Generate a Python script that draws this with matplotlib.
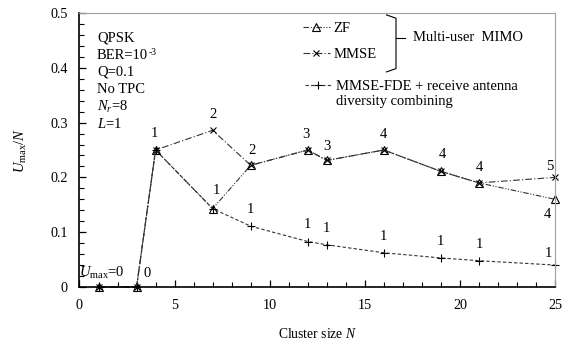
import matplotlib
matplotlib.use("Agg")
import matplotlib.pyplot as plt
from matplotlib.ticker import MultipleLocator, FuncFormatter

plt.rcParams['font.family'] = ['Liberation Serif', 'DejaVu Serif']
plt.rcParams['mathtext.fontset'] = 'custom'
plt.rcParams['mathtext.rm'] = 'Liberation Serif'
plt.rcParams['mathtext.it'] = 'Liberation Serif:italic'

# ---- data ----
N = [1, 3, 4, 7, 9, 12, 13, 16, 19, 21, 25]
zf = [0, 0, 0.25, 0.143, 0.222, 0.25, 0.231, 0.25, 0.211, 0.190, 0.16]
mmse = [0, 0, 0.25, 0.286, 0.222, 0.25, 0.231, 0.25, 0.211, 0.190, 0.20]
fde = [0, 0, 0.25, 0.143, 0.111, 0.083, 0.077, 0.0625, 0.053, 0.048, 0.04]

# U_max labels (N, value, text, dx_pt, dy_pt)
mimo_labels = [(4, 0.25, "1", -1, 12), (7, 0.286, "2", 0, 11), (7, 0.143, "1", 3, 13),
               (9, 0.222, "2", 1, 11), (12, 0.25, "3", -1, 11), (13, 0.231, "3", 0, 10),
               (16, 0.25, "4", 0, 11), (19, 0.211, "4", 1, 12), (21, 0.190, "4", 0, 11),
               (25, 0.20, "5", -4, 7.5), (25, 0.16, "4", -5.5, -11)]
fde_labels = [(9, 0.111, "1"), (12, 0.083, "1"), (13, 0.077, "1"), (16, 0.0625, "1"),
              (19, 0.053, "1"), (21, 0.048, "1")]

fs = 10.5
fig = plt.figure(figsize=(5.63, 3.44), dpi=100)
ax = fig.add_axes([0.1412, 0.1657, 0.8446, 0.7965])

lw = 0.8
l_zf, = ax.plot(N, zf, color='#333333', lw=lw, ls=(0, (5, 1.5, 1, 1.5, 1, 1.5)),
                marker='^', mfc='none', mec='black', ms=6, mew=0.8, label='ZF', clip_on=False)
l_mm, = ax.plot(N, mmse, color='#333333', lw=lw, ls=(0, (6, 2, 1, 2)),
                marker='x', mec='black', ms=5, mew=0.8, label='MMSE', clip_on=False)
l_fd, = ax.plot(N, fde, color='#333333', lw=lw, ls=(0, (3, 2)),
                marker='+', mec='black', ms=5.5, mew=0.8,
                label='MMSE-FDE + receive antenna', clip_on=False)

for x, y, t, dx, dy in mimo_labels:
    ax.annotate(t, (x, y), xytext=(dx, dy), textcoords='offset points',
                ha='center', va='center', fontsize=fs)
for x, y, t in fde_labels:
    ax.annotate(t, (x, y), xytext=(0, 12), textcoords='offset points',
                ha='center', va='center', fontsize=fs)
ax.annotate("1", (25, 0.04), xytext=(-5, 8), textcoords='offset points',
            ha='center', va='center', fontsize=fs)
ax.annotate(r"$\mathit{U}_{\rm max}$=0", (1, 0), xytext=(2, 10), textcoords='offset points',
            ha='center', va='center', fontsize=fs)
ax.annotate("0", (3, 0), xytext=(7.5, 10), textcoords='offset points',
            ha='center', va='center', fontsize=fs)

ax.set_xlim(0, 25)
ax.set_ylim(0, 0.5)
ax.xaxis.set_major_locator(MultipleLocator(5))
ax.xaxis.set_minor_locator(MultipleLocator(1))
ax.yaxis.set_major_locator(MultipleLocator(0.1))
ax.yaxis.set_minor_locator(MultipleLocator(0.02))
ax.tick_params(which='both', direction='in', top=False, right=False, labelsize=10.2, pad=8.5)
ax.tick_params(which='major', length=5, width=0.9)
ax.tick_params(which='minor', length=3.5, width=0.8)
ax.yaxis.set_major_formatter(FuncFormatter(lambda v, p: '0' if abs(v) < 1e-9 else f'{v:.1f}'))

for s in ['top', 'right']:
    ax.spines[s].set_color('#a0a0a0')
    ax.spines[s].set_linewidth(0.8)
for s in ['left', 'bottom']:
    ax.spines[s].set_linewidth(1.2)

ax.set_xlabel(r"Cluster size $\mathit{N}$", fontsize=9.8, labelpad=11)
ax.set_ylabel(r"$\mathit{U}_{\rm max}/\mathit{N}$", fontsize=10.5, labelpad=15)

info = ["QPSK", "BER=10", "Q=0.1", "No TPC", r"$\mathit{N_r}$=8", r"$\mathit{L}$=1"]
info_txt = []
for i, t in enumerate(info):
    info_txt.append(ax.text(0.0368, 0.909 - i * 0.0628, t, transform=ax.transAxes,
                            fontsize=fs, ha='left', va='center'))
ax.annotate("-3", xy=(1, 1), xycoords=info_txt[1], xytext=(0.3, 0.5),
            textcoords='offset points', ha='left', va='top', fontsize=7)

leg1 = ax.legend(handles=[l_zf, l_mm], loc='upper left', bbox_to_anchor=(0.470, 0.968),
                 frameon=False, fontsize=fs, handlelength=1.85, handletextpad=0.25,
                 labelspacing=0.9, borderpad=0, borderaxespad=0)
ax.add_artist(leg1)
leg2 = ax.legend(handles=[l_fd], loc='upper left', bbox_to_anchor=(0.474, 0.755),
                 frameon=False, fontsize=fs, handlelength=1.85, handletextpad=0.25,
                 borderpad=0, borderaxespad=0)
ax.annotate("diversity combining", xy=(0, 0), xycoords=leg2.get_texts()[0],
            xytext=(0, -1.5), textcoords='offset points', ha='left', va='top', fontsize=fs,
            zorder=6)

# bracket for Multi-user MIMO
bx, by_top, by_bot, by_mid = 0.6656, 0.993, 0.785, 0.909
ax.plot([bx - 0.02, bx, bx, bx - 0.02], [by_top, by_top - 0.012, by_bot + 0.012, by_bot],
        transform=ax.transAxes, color='black', lw=0.8, clip_on=False)
ax.plot([bx, bx + 0.019], [by_mid, by_mid], transform=ax.transAxes, color='black', lw=0.8)
ax.text(bx + 0.036, by_mid, "Multi-user  MIMO", transform=ax.transAxes, fontsize=fs,
        ha='left', va='center')

fig.savefig("out.png", dpi=100)
